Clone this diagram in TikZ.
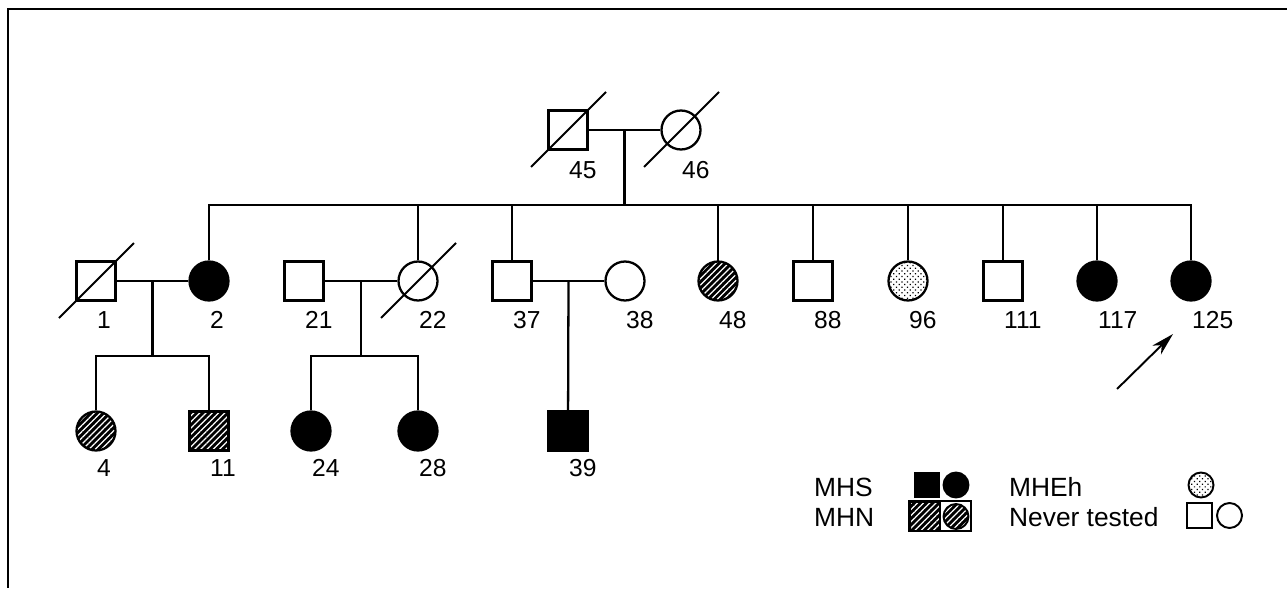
\documentclass[tikz,border=0pt]{standalone}
\usepackage{fontspec}
\setmainfont{Liberation Sans}
\usetikzlibrary{positioning, arrows.meta, calc, patterns.meta}

\begin{document}
\begin{tikzpicture}[
  x=0.02cm, y=-0.02cm,
  >=Stealth,
  line width=1.3pt,
  male/.style={draw, rectangle, minimum size=0.78cm, inner sep=0pt},
  female/.style={draw, circle, minimum size=0.78cm, inner sep=0pt},
  mhs/.style={fill=black},
  mhn/.style={preaction={fill=black},
    pattern={Lines[angle=45, distance=2.5pt, line width=0.7pt]},
    pattern color=white},
  mheh/.style={pattern={Dots[distance=2.2pt, radius=0.5pt, angle=45]},
    pattern color=black},
  slash/.style={line width=1.1pt},
  num/.style={anchor=west, inner sep=0pt, font=\fontsize{14}{16}\selectfont},
  key/.style={anchor=west, inner sep=0pt, font=\fontsize{15}{18}\selectfont},
  keysym/.style={draw, minimum size=0.5cm, inner sep=0pt, line width=1.1pt},
]

\useasboundingbox (0,0) rectangle (1287,588);

% --- Frame ---
\draw[line width=1.7pt] (1287,9) -- (8,9) -- (8,588);

% --- Generation I ---
\node[male] (i45) at (568,130) {};
\node[female] (i46) at (681,130) {};
\node[num] (n45) at (568,170) {45};
\node[num] (n46) at (681,170) {46};

% --- Generation II ---
\node[male] (ii1) at (96,281) {};
\node[female, mhs] (ii2) at (209,281) {};
\node[male] (ii21) at (304,281) {};
\node[female] (ii22) at (418,281) {};
\node[male] (ii37) at (512,281) {};
\node[female] (ii38) at (625,281) {};
\node[female, mhn] (ii48) at (718,281) {};
\node[male] (ii88) at (813,281) {};
\node[female, mheh] (ii96) at (908,281) {};
\node[male] (ii111) at (1003,281) {};
\node[female, mhs] (ii117) at (1097,281) {};
\node[female, mhs] (ii125) at (1191,281) {};

\foreach \p/\x in {1/96, 2/209, 21/304, 22/418, 37/512, 38/625, 48/718,
  88/813, 96/908, 111/1003, 117/1097, 125/1191}
  \node[num] (n\p) at (\x,320) {\p};

% --- Generation III ---
\node[female, mhn] (iii4) at (96,431) {};
\node[male, mhn] (iii11) at (209,431) {};
\node[female, mhs] (iii24) at (311,431) {};
\node[female, mhs] (iii28) at (418,431) {};
\node[male, mhs] (iii39) at (568,431) {};

\foreach \p/\x in {4/96, 11/209, 24/311, 28/418, 39/568}
  \node[num] (n\p) at (\x,468) {\p};

% --- Lines of descent ---
\coordinate (m0) at ($(i45)!0.5!(i46)$);
\coordinate (s0) at ($(m0)+(0,75)$);
\draw (i45) -- (i46);
\draw (m0) -- (s0);
\draw (ii2) |- (s0) -| (ii125);
\foreach \p in {ii22, ii37, ii48, ii88, ii96, ii111, ii117}
  \draw (\p) -- (\p |- s0);

\draw (ii1) -- (ii2);
\draw (ii21) -- (ii22);
\draw (ii37) -- (ii38);
\coordinate (m1) at ($(ii1)!0.5!(ii2)$);
\coordinate (m2) at ($(ii21)!0.5!(ii22)$);
\coordinate (m3) at ($(ii37)!0.5!(ii38)$);
\coordinate (s1) at ($(m1)+(0,75)$);
\coordinate (s2) at ($(m2)+(0,75)$);
\draw (m1) -- (s1);
\draw (m2) -- (s2);
\draw (iii4) |- (s1) -| (iii11);
\draw (iii24) |- (s2) -| (iii28);
\draw (m3) -- (iii39);

% deceased
\foreach \p in {i45, i46, ii1, ii22}
  \draw[slash] (\p) ++(-37,37) -- ++(75,-75);

% proband
\coordinate (a0) at (1117,389);
\coordinate (a1) at (1173,334);
\draw[-{Stealth[length=13pt, width=7pt, inset=4pt]}, line width=1.1pt] (a0) -- (a1);

% --- Legend ---
\node[key] (kMHS) at (813,487) {MHS};
\node[key] (kMHN) at (813,517) {MHN};
\node[keysym, mhs] (kSsq) at (927,485) {};
\node[keysym, circle, mhs] (kSci) at (956,485) {};
\node[keysym, mhn, minimum width=0.6cm, minimum height=0.58cm] (kNsq) at (925,516.5) {};
\node[keysym, circle, mhn] (kNci) at (956,516.5) {};
\draw[line width=1.1pt] (kNsq.north west) rectangle (971,531);
\node[key] (kMHEh) at (1008,487) {MHEh};
\node[key] (kNev) at (1008,517) {Never tested};
\node[keysym, circle, mheh] (kEci) at (1201,485) {};
\node[keysym] (kTsq) at (1199.5,515.5) {};
\node[keysym, circle] (kTci) at (1229.5,515.5) {};

\end{tikzpicture}
\end{document}
